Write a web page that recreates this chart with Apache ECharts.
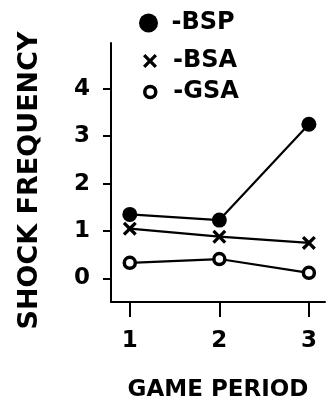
<!DOCTYPE html>
<html>
<head>
<meta charset="utf-8">
<script src="https://cdn.jsdelivr.net/npm/echarts@6/dist/echarts.min.js"></script>
<style>
html,body{margin:0;padding:0;background:#fff;}
#chart{width:329px;height:400px;}
</style>
</head>
<body>
<div id="chart"></div>
<script>
// Data
var periods = [1, 2, 3];
var periodTicks = [1, 2, 3];
var freqTicks = [0, 1, 2, 3, 4];
var bsp = [1.35, 1.23, 3.25];
var bsa = [1.05, 0.88, 0.75];
var gsa = [0.33, 0.41, 0.12];
var seriesNames = ['BSP', 'BSA', 'GSA'];
var xTitle = 'GAME PERIOD';
var yTitle = 'SHOCK FREQUENCY';

var FONT = 'DejaVu Sans';
var X_PATH = 'path://M0,2 L2,0 L6,4 L10,0 L12,2 L8,6 L12,10 L10,12 L6,8 L2,12 L0,10 L4,6 Z';

function pairs(vals) {
  return vals.map(function (v, i) { return [periods[i], v]; });
}

var chart = echarts.init(document.getElementById('chart'), null, {renderer: 'canvas'});

function legendFor(name, icon, left, top, itemStyle, w, h) {
  return {
    data: [{name: name, icon: icon, itemStyle: itemStyle}],
    left: left, top: top,
    itemWidth: w, itemHeight: h,
    selectedMode: false,
    formatter: '-{name}',
    textStyle: {fontFamily: FONT, fontWeight: 'bold', fontSize: 24, color: '#000'},
    padding: 0
  };
}

var option = {
  backgroundColor: '#fff',
  animation: false,
  legend: [
    legendFor('BSP', 'circle', 139, 11, {color: '#000', borderWidth: 0}, 36, 19),
    legendFor('BSA', X_PATH, 143, 49, {color: '#000', borderWidth: 0}, 36, 14),
    legendFor('GSA', 'circle', 143, 80, {color: '#fff', borderColor: '#000', borderWidth: 3.5}, 36, 11)
  ],
  grid: {left: 111, right: 4, top: 43, bottom: 98, containLabel: false, outerBoundsMode: 'none'},
  xAxis: {
    type: 'value',
    min: 0.79, max: 3.18,
    name: xTitle,
    nameLocation: 'middle',
    nameGap: 77,
    nameTextStyle: {fontFamily: FONT, fontWeight: 'bold', fontSize: 23, color: '#000'},
    axisLine: {show: true, onZero: false, lineStyle: {color: '#000', width: 2}},
    axisTick: {show: true, length: 15, customValues: periodTicks, lineStyle: {color: '#000', width: 2}},
    axisLabel: {customValues: periodTicks, margin: 28, fontFamily: FONT, fontWeight: 'bold', fontSize: 23, color: '#000'},
    splitLine: {show: false}
  },
  yAxis: {
    type: 'value',
    min: -0.495, max: 4.96,
    name: yTitle,
    nameLocation: 'middle',
    nameRotate: 90,
    nameGap: 68,
    nameTextStyle: {fontFamily: FONT, fontWeight: 'bold', fontSize: 27, color: '#000', padding: [0, 16, 0, 0]},
    axisLine: {show: true, onZero: false, lineStyle: {color: '#000', width: 2}},
    axisTick: {show: true, length: 8, customValues: freqTicks, lineStyle: {color: '#000', width: 2}},
    axisLabel: {customValues: freqTicks, margin: 21, fontFamily: FONT, fontWeight: 'bold', fontSize: 23, color: '#000'},
    splitLine: {show: false}
  },
  series: [
    {
      name: seriesNames[0], type: 'line', data: pairs(bsp),
      symbol: 'circle', symbolSize: 15,
      itemStyle: {color: '#000'},
      lineStyle: {color: '#000', width: 2.2}
    },
    {
      name: seriesNames[1], type: 'line', data: pairs(bsa),
      symbol: X_PATH, symbolSize: [14, 14],
      itemStyle: {color: '#000'},
      lineStyle: {color: '#000', width: 2.2}
    },
    {
      name: seriesNames[2], type: 'line', data: pairs(gsa),
      symbol: 'circle', symbolSize: 11,
      itemStyle: {color: '#fff', borderColor: '#000', borderWidth: 3.5},
      lineStyle: {color: '#000', width: 2.2}
    }
  ]
};
chart.setOption(option);
</script>
</body>
</html>
